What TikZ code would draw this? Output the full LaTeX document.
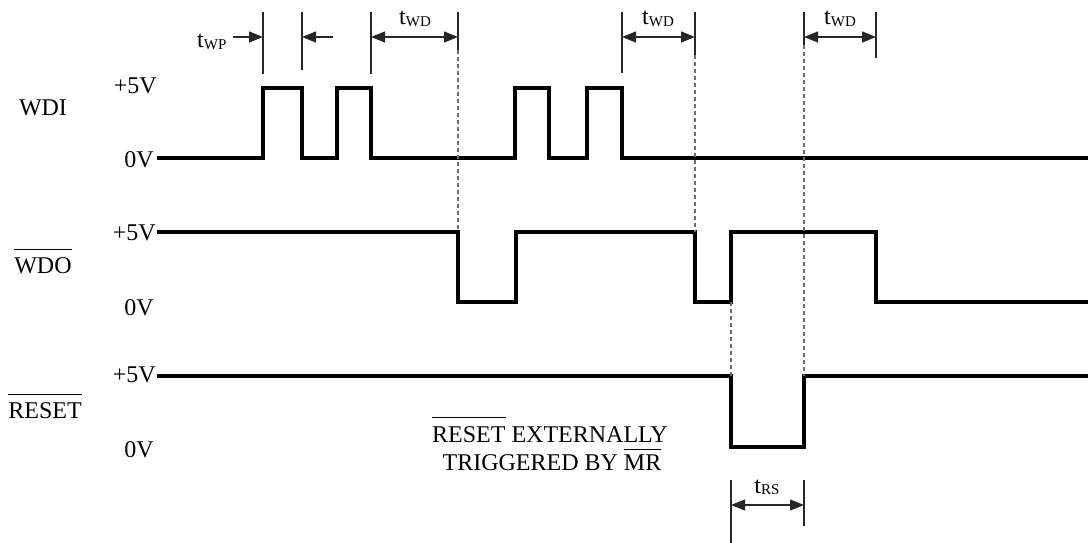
\documentclass[tikz,border=0pt]{standalone}
\usepackage{fontspec}
\setmainfont{Liberation Serif}
\usetikzlibrary{arrows.meta}
\newcommand\ovl[2][7pt]{\vbox{\hrule height 1.3pt\kern#1\hbox{#2}}}
\newcommand\tsub[2]{#1{\fontsize{15}{15}\selectfont\raisebox{-1.5pt}{#2}}}
\begin{document}
\begin{tikzpicture}[x=1pt,y=-1pt,font=\fontsize{24}{28}\selectfont,
  sig/.style={line width=3.2pt,line join=miter},
  tickln/.style={line width=1.2pt,black!85},
  guide/.style={line width=1.1pt,gray!85!black,dash pattern=on 4pt off 3pt},
  dimarr/.style={line width=1.2pt,black!85,{Triangle[length=14pt,width=11pt]}-{Triangle[length=14pt,width=11pt]}},
  onearr/.style={line width=1.2pt,black!85,-{Triangle[length=14pt,width=11pt]}},
  lbl/.style={inner sep=0pt,anchor=base},
  lble/.style={inner sep=0pt,anchor=base east}]
\useasboundingbox (0,0) rectangle (1088,543);

% signal labels
\node[lbl] (wdi) at (43,115) {WDI};
\node[lble] (wdiH) at (157,93) {+5V};
\node[lble] (wdiL) at (154,167) {0V};
\node[lbl] (wdo) at (43,273) {\ovl{WDO}};
\node[lble] (wdoH) at (156,240) {+5V};
\node[lble] (wdoL) at (154,315) {0V};
\node[lbl] (rst) at (45,418) {\ovl{RESET}};
\node[lble] (rstH) at (156,382) {+5V};
\node[lble] (rstL) at (154,457) {0V};

% waveforms
\draw[sig] (157,158) -- (263,158) -- (263,88) -- (302,88) -- (302,158) -- (337,158) -- (337,88) -- (371,88) -- (371,158)
  -- (515,158) -- (515,88) -- (549,88) -- (549,158) -- (587,158) -- (587,88) -- (622,88) -- (622,158) -- (1090,158);
\draw[sig] (157,232) -- (458,232) -- (458,302) -- (516,302) -- (516,232) -- (695,232) -- (695,302) -- (731,302) -- (731,232)
  -- (876,232) -- (876,302) -- (1090,302);
\draw[sig] (157,376) -- (731,376) -- (731,447) -- (804,447) -- (804,376) -- (1090,376);

% tick lines
\foreach \x/\b in {263/74,302/70,371/74,458/50,622/73,695/55,804/45,876/58}
  \draw[tickln] (\x,12) -- (\x,\b);
\draw[tickln] (731,480) -- (731,543);
\draw[tickln] (804,480) -- (804,526);

% dashed guides
\draw[guide] (458,50) -- (458,232);
\draw[guide] (695,55) -- (695,232);
\draw[guide] (804,45) -- (804,376);
\draw[guide] (731,302) -- (731,376);

% dimension coordinates
\coordinate (wp0) at (233,37); \coordinate (wp1) at (263,37);
\coordinate (wp2) at (333,37); \coordinate (wp3) at (302,37);
\coordinate (d1a) at (371,37); \coordinate (d1b) at (458,37);
\coordinate (d2a) at (622,37); \coordinate (d2b) at (695,37);
\coordinate (d3a) at (804,37); \coordinate (d3b) at (876,37);
\coordinate (rsa) at (731,505); \coordinate (rsb) at (804,505);

\draw[onearr] (wp0) -- (wp1);
\draw[onearr] (wp2) -- (wp3);
\draw[dimarr] (d1a) -- (d1b);
\draw[dimarr] (d2a) -- (d2b);
\draw[dimarr] (d3a) -- (d3b);
\draw[dimarr] (rsa) -- (rsb);

% timing labels
\node[inner sep=0pt,anchor=base west] (twp) at (197,48) {\tsub{t}{WP}};
\node[lbl] (twd1) at (415,25) {\tsub{t}{WD}};
\node[lbl] (twd2) at (658,25) {\tsub{t}{WD}};
\node[lbl] (twd3) at (840,25) {\tsub{t}{WD}};
\node[lbl] (trs) at (767,493) {\tsub{t}{RS}};

% note
\node[lbl] (note1) at (550,442) {\ovl[8pt]{RESET} EXTERNALLY};
\node[lbl] (note2) at (552,470) {TRIGGERED BY \ovl[4pt]{MR}};
\end{tikzpicture}
\end{document}
